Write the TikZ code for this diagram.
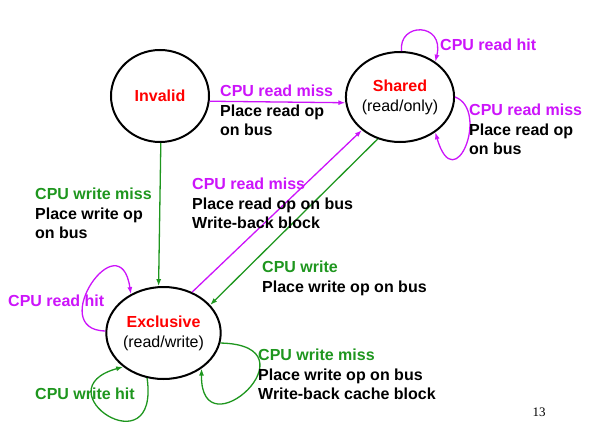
\documentclass[tikz,border=0pt]{standalone}
\usepackage{fontspec}
\setmainfont{Liberation Sans}
\newfontfamily\slidenumfont{Liberation Serif}
\usepackage{xcolor}
\definecolor{mesiMagenta}{RGB}{204,20,250}
\definecolor{mesiGreen}{RGB}{30,150,30}
\definecolor{mesiRed}{RGB}{255,0,0}
\usepackage{tikz}
\usetikzlibrary{positioning,shapes.geometric,arrows.meta}
\tikzset{
  state/.style={ellipse,draw=black,line width=2pt,fill=white,inner sep=0pt,
    minimum width=#1,minimum height=92pt,align=center,
    font=\fontsize{16}{20}\selectfont},
  state/.default=98pt,
  lbl/.style={anchor=north west,inner sep=0pt,align=left,
    font=\fontsize{16}{19.5}\selectfont\bfseries},
  rdarrow/.style={-{Latex[length=7pt,width=5pt]},draw=mesiMagenta,line width=1.3pt},
  wrarrow/.style={-{Latex[length=7pt,width=5pt]},draw=mesiGreen,line width=1.3pt}
}
\begin{document}
\begin{tikzpicture}[x=1pt,y=-1pt]
  \useasboundingbox (0,0) rectangle (595,447);
  \node[state] (invalid) at (160,96) {\textcolor{mesiRed}{\bfseries Invalid}};
  \node[state=101pt, minimum height=90pt] (shared) at (400,97)
    {\textcolor{mesiRed}{\bfseries Shared}\\(read/only)};
  \node[state=99pt] (excl) at (163.5,333)
    {\textcolor{mesiRed}{\bfseries Exclusive}\\(read/write)};
  \draw[rdarrow] (invalid.-6) -- (shared.186);
  \draw[wrarrow] (invalid.271) -- (excl.96);
  \draw[rdarrow] (excl.55) -- (shared.221);
  \draw[wrarrow] (shared.242) -- (excl.31);
  \draw[rdarrow] (shared.88) .. controls (398,22) and (445,22) .. (shared.45);
  \draw[rdarrow] (shared.0) .. controls (490,110) and (455,200) .. (shared.-45);
  \draw[rdarrow] (excl.178) .. controls (45,330) and (120,220) .. (excl.130);
  \draw[wrarrow] (excl.-110) .. controls (160,470) and (40,390) .. (excl.220);
  \draw[wrarrow] (excl.-10) .. controls (320,345) and (200,455) .. (excl.-43);
  \node[lbl] (l-ir) at (220,85)
    {{\color{mesiMagenta}CPU read miss}\\Place read op\\on bus};
  \node[lbl] (l-srh) at (440,39) {\color{mesiMagenta}CPU read hit};
  \node[lbl] (l-srm) at (469,104)
    {{\color{mesiMagenta}CPU read miss}\\Place read op\\on bus};
  \node[lbl] (l-esrm) at (192,178)
    {{\color{mesiMagenta}CPU read miss}\\Place read op on bus\\Write-back block};
  \node[lbl] (l-iwm) at (35,188)
    {{\color{mesiGreen}CPU write miss}\\Place write op\\on bus};
  \node[lbl] (l-sew) at (262,261)
    {{\color{mesiGreen}CPU write}\\Place write op on bus};
  \node[lbl] (l-erh) at (8,295) {\color{mesiMagenta}CPU read hit};
  \node[lbl] (l-ewh) at (35,388) {\color{mesiGreen}CPU write hit};
  \node[lbl] (l-ewm) at (258,349)
    {{\color{mesiGreen}CPU write miss}\\Place write op on bus\\Write-back cache block};
  \node[font=\slidenumfont\fontsize{13}{13}\selectfont,inner sep=0pt] (pagenum)
    at (539,412) {13};
\end{tikzpicture}
\end{document}
